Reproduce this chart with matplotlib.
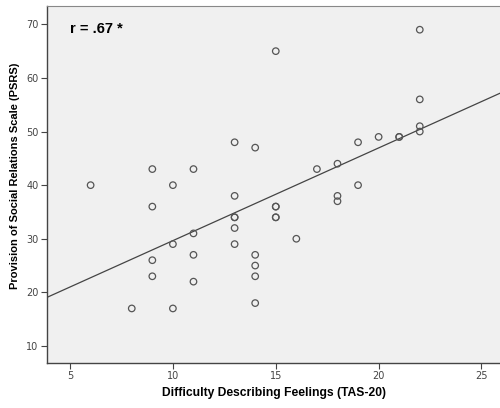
import numpy as np
import matplotlib
matplotlib.use("Agg")
import matplotlib.pyplot as plt

tas = [6, 8, 9, 9, 9, 9, 10, 10, 10, 11, 11, 11, 11,
       13, 13, 13, 13, 13, 13, 14, 14, 14, 14, 14,
       15, 15, 15, 15, 15, 16, 17, 18, 18, 18, 19, 19, 20, 21, 21,
       22, 22, 22, 22]
psrs = [40, 17, 43, 36, 26, 23, 40, 29, 17, 43, 31, 27, 22,
        48, 38, 34, 34, 32, 29, 47, 27, 25, 23, 18,
        65, 36, 36, 34, 34, 30, 43, 44, 38, 37, 48, 40, 49, 49, 49,
        69, 56, 51, 50]
x_ticks = [5, 10, 15, 20, 25]
y_ticks = [10, 20, 30, 40, 50, 60, 70]
r_label = "r = .67 *"

x = np.array(tas, dtype=float)
y = np.array(psrs, dtype=float)
slope, intercept = np.polyfit(x, y, 1)

fig = plt.figure(figsize=(5, 4.08), dpi=100)
ax = fig.add_axes([0.094, 0.110, 0.906, 0.875])
ax.set_facecolor("#f0f0f0")
fig.patch.set_facecolor("white")

xlim = (3.88, 25.9)
ax.set_xlim(*xlim)
ax.set_ylim(6.8, 73.4)

xs = np.array(xlim)
ax.plot(xs, intercept + slope * xs, color="#444444", lw=0.9, zorder=2)
ax.scatter(x, y, s=22, facecolors="none", edgecolors="#555555", linewidths=0.9, zorder=3)

ax.set_xticks(x_ticks)
ax.set_yticks(y_ticks)
ax.tick_params(axis="both", labelsize=7, colors="#444444", length=4, width=0.8, pad=2)
for side in ["left", "bottom"]:
    ax.spines[side].set_color("#444444")
    ax.spines[side].set_linewidth(1.0)
ax.spines["top"].set_color("#888888")
ax.spines["right"].set_visible(False)

ax.set_xlabel("Difficulty Describing Feelings (TAS-20)", fontsize=8.7, fontweight="bold",
              family="Liberation Sans", labelpad=4)
ax.set_ylabel("Provision of Social Relations Scale (PSRS)", fontsize=8, fontweight="bold",
              family="Liberation Sans", labelpad=5)
ax.yaxis.set_label_coords(-0.06, 0.525)

ax.text(0.05, 0.955, r_label, transform=ax.transAxes, fontsize=10.5, fontweight="bold",
        family="Liberation Sans", va="top", ha="left")

fig.savefig("out.png", dpi=100)
